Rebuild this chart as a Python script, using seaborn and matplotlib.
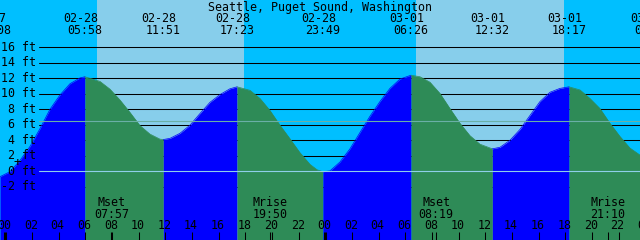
import numpy as np
import pandas as pd
import matplotlib
matplotlib.use("Agg")
import matplotlib.pyplot as plt
import matplotlib.transforms as mtransforms
import seaborn as sns

# ---------------- data ----------------
title = "Seattle, Puget Sound, Washington"

# tide curve (hours since 02-28 00:00, feet)
hours = [-0.40, 0.35, 1.10, 1.85, 2.60, 3.35, 4.10, 4.85, 5.60, 5.97,
         7.10, 7.85, 8.60, 9.35, 10.10, 10.85, 11.60, 11.85,
         12.35, 13.10, 13.85, 14.60, 15.35, 16.10, 16.85, 17.38,
         18.35, 19.10, 19.85, 20.60, 21.35, 22.10, 22.85, 23.38, 23.82,
         24.35, 25.10, 25.85, 26.60, 27.35, 28.10, 28.85, 29.60, 30.43,
         31.10, 31.85, 32.60, 33.35, 34.10, 34.85, 35.60, 36.53,
         37.10, 37.85, 38.60, 39.35, 40.10, 40.85, 41.60, 42.28,
         43.10, 43.85, 44.60, 45.35, 46.10, 46.85, 47.60]
heights = [-0.70, -0.05, 1.40, 3.20, 5.50, 8.00, 9.85, 11.30, 12.05, 12.20,
           11.60, 10.60, 9.20, 7.60, 5.90, 4.80, 4.15, 4.10,
           4.25, 4.90, 5.95, 7.45, 8.90, 9.90, 10.65, 10.90,
           10.45, 9.40, 7.85, 5.95, 4.20, 2.40, 0.90, 0.20, -0.05,
           0.05, 1.20, 2.90, 5.00, 7.10, 9.00, 10.70, 11.90, 12.40,
           12.20, 11.50, 10.05, 8.10, 6.20, 4.60, 3.50, 2.90,
           3.10, 4.00, 5.40, 7.20, 9.00, 10.20, 10.70, 10.90,
           10.50, 9.40, 8.10, 6.20, 4.50, 3.00, 2.10]

# high / low tide events
extreme_dates = ["02-27", "02-28", "02-28", "02-28", "02-28", "03-01", "03-01", "03-01", "03-02"]
extreme_times = ["23:08", "05:58", "11:51", "17:23", "23:49", "06:26", "12:32", "18:17", "00:31"]
extreme_hours = [-0.87, 5.97, 11.85, 17.38, 23.82, 30.43, 36.53, 42.28, 48.52]

# sunrise, sunset, sunrise, sunset
sun_hours = [6.85, 17.90, 30.80, 41.90]

moon_events = ["Mset", "Mrise", "Mset", "Mrise"]
moon_times = ["07:57", "19:50", "08:19", "21:10"]
moon_hours = [7.95, 19.83, 32.32, 45.17]

level_ticks = [16, 14, 12, 10, 8, 6, 4, 2, 0, -2]
level_labels = ["16 ft", "14 ft", "12 ft", "10 ft", "8 ft", "6 ft", "4 ft", "2 ft", "0 ft", "-2 ft"]

hour_ticks = [0, 2, 4, 6, 8, 10, 12, 14, 16, 18, 20, 22,
              24, 26, 28, 30, 32, 34, 36, 38, 40, 42, 44, 46, 48]
hour_labels = ["00", "02", "04", "06", "08", "10", "12", "14", "16", "18", "20", "22",
               "00", "02", "04", "06", "08", "10", "12", "14", "16", "18", "20", "22", "00"]

mean_sea_level = 6.5
mark_hour, mark_ft = 0.90, 1.10

# ---------------- style ----------------
NIGHT = "#00BFFF"
DAY = "#87CEEB"
FLOOD = "#0000FF"
EBB = "#2E8B57"
DATUM = "#8FCFEA"
MSL = "#6AAFA6"
FG = "#000000"

sns.set_theme(style="white")
plt.rcParams["font.family"] = ["DejaVu Sans Mono", "DejaVu Sans"]
FS = 8.4

W, H = 640, 240
fig = plt.figure(figsize=(6.4, 2.4), dpi=100)
ax = fig.add_axes([0, 0, 1, 1])

X0_PX, PX_PER_H = 5.3, 13.333
Y0_PX, PX_PER_FT = 171.3, 7.75
xmin = (0 - X0_PX) / PX_PER_H
xmax = (W - X0_PX) / PX_PER_H
ymin = (Y0_PX - H) / PX_PER_FT
ymax = Y0_PX / PX_PER_FT

# sky: night / day
edges = [xmin] + sun_hours + [xmax]
for i, (a, b) in enumerate(zip(edges[:-1], edges[1:])):
    ax.axvspan(a, b, color=NIGHT if i % 2 == 0 else DAY, lw=0, zorder=0)

# grid lines over the sky
for lv in level_ticks:
    if lv != 0:
        ax.axhline(lv, xmin=39 / W, xmax=1, color=FG, lw=0.75, zorder=1)

# water, coloured by rising / falling
df = pd.DataFrame({"hour": hours, "ft": heights})
bounds = [hours[0]] + [t for t in extreme_hours if hours[0] < t < hours[-1]] + [hours[-1]]
for a, b in zip(bounds[:-1], bounds[1:]):
    seg = df[(df.hour >= a - 1e-6) & (df.hour <= b + 1e-6)]
    color = FLOOD if seg.ft.iloc[-1] > seg.ft.iloc[0] else EBB
    ax.fill_between(seg.hour, seg.ft, ymin, color=color, lw=0, zorder=2)
    sns.lineplot(data=seg, x="hour", y="ft", color=color, lw=0.5, ax=ax,
                 zorder=2.1, legend=False)
ax.set_xlim(xmin, xmax)
ax.set_ylim(ymin, ymax)
ax.set_axis_off()

# datum and mean sea level lines
ax.axhline(0, xmin=39 / W, xmax=1, color=DATUM, lw=0.8, zorder=3)
ax.axhline(mean_sea_level, xmin=39 / W, xmax=1, color=MSL, lw=0.8, zorder=3)

bx = mtransforms.blended_transform_factory(ax.transData, ax.transAxes)
by = mtransforms.blended_transform_factory(ax.transAxes, ax.transData)

def fy(px):
    return 1 - px / H

# title
ax.text(0.5, fy(10.5), title, transform=ax.transAxes, ha="center", va="baseline",
        fontsize=FS, color=FG, zorder=5)

# tide event labels
for d, t, h in zip(extreme_dates, extreme_times, extreme_hours):
    ax.annotate(d, xy=(h, fy(22)), xycoords=bx, xytext=(-4.5, 0),
                textcoords="offset pixels", ha="center", va="baseline",
                fontsize=FS, color=FG, zorder=5, annotation_clip=False)
    ax.annotate(t, xy=(h, fy(34)), xycoords=bx, xytext=(0, 0),
                textcoords="offset pixels", ha="center", va="baseline",
                fontsize=FS, color=FG, zorder=5, annotation_clip=False)

# level labels
for lv, lab in zip(level_ticks, level_labels):
    ax.annotate(lab, xy=(36 / W, lv), xycoords=by, xytext=(0, -3.5),
                textcoords="offset pixels", ha="right", va="baseline",
                fontsize=FS, color=FG, zorder=5)

# current-time mark
ax.text(mark_hour, mark_ft, "+", ha="center", va="center", fontsize=FS + 1,
        color=FG, zorder=5)

# hour ticks and labels
for h, lab in zip(hour_ticks, hour_labels):
    lw = 2.2 if lab == "00" else 0.75
    ax.vlines(h, 0, 8 / H, transform=bx, color=FG, lw=lw, zorder=5)
    ax.annotate(lab, xy=(h, fy(229.3)), xycoords=bx, xytext=(-1, 0),
                textcoords="offset pixels", ha="center", va="baseline",
                fontsize=FS, color=FG, zorder=5, annotation_clip=False)

# moon events
for ev, t, h in zip(moon_events, moon_times, moon_hours):
    ax.vlines(h, 0, 8 / H, transform=bx, color=FG, lw=0.75, zorder=5)
    ax.annotate(ev, xy=(h, fy(206)), xycoords=bx, ha="center", va="baseline",
                fontsize=FS, color=FG, zorder=5)
    ax.annotate(t, xy=(h, fy(217.7)), xycoords=bx, ha="center", va="baseline",
                fontsize=FS, color=FG, zorder=5)

fig.savefig("out.png", dpi=100)
